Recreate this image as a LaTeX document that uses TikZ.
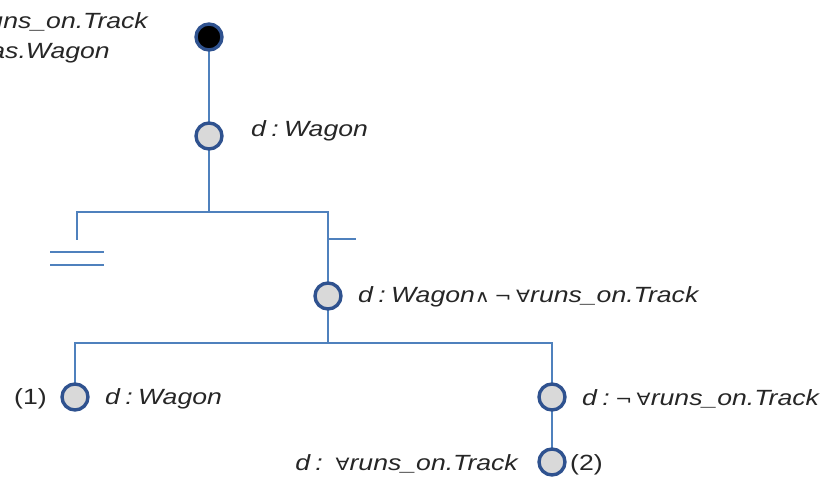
\documentclass[tikz,border=0pt]{standalone}
\usepackage{fontspec}
\usepackage{graphicx}
\setmainfont{Liberation Sans}
\newfontfamily\symf{DejaVu Sans}
\definecolor{linec}{RGB}{79,129,189}
\definecolor{rimc}{RGB}{47,82,143}
\definecolor{fillc}{RGB}{217,217,217}
\newcommand{\tx}[1]{\scalebox{1.21}[1]{\fontsize{22}{26}\selectfont\itshape #1}}
\newcommand{\sy}[1]{{\symf\upshape\fontsize{17}{20}\selectfont #1}}
\newcommand{\cl}{\hspace{0.2em}:\hspace{0.2em}}
\begin{document}
\begin{tikzpicture}[x=1pt,y=-1pt,
  conn/.style={draw=linec,line width=1.6pt},
  tnode/.style={circle,draw=rimc,line width=3.4pt,fill=fillc,minimum size=26pt,inner sep=0pt},
  rootnode/.style={tnode,fill=black},
  lab/.style={inner sep=0pt,anchor=base west,text=black!85},
  labr/.style={inner sep=0pt,anchor=base east,text=black!85}]
\useasboundingbox (0,0) rectangle (830,478);
% junction coordinates
\coordinate (J1) at (209,212);
\coordinate (L1) at (77,212);
\coordinate (R1) at (328,212);
\coordinate (L1e) at (77,240);
\coordinate (T1) at (328,239);
\coordinate (T1e) at (356,239);
\coordinate (D1a) at (50,252);
\coordinate (D1b) at (104,252);
\coordinate (D2a) at (50,265);
\coordinate (D2b) at (104,265);
\coordinate (J2) at (328,343);
\coordinate (L2) at (75,343);
\coordinate (R2) at (552,343);
% connectors (drawn first)
\path[conn] (209,37) -- (209,136);
\path[conn] (209,136) -- (J1);
\path[conn] (L1e) -- (L1) -- (R1) -- (328,296);
\path[conn] (T1) -- (T1e);
\path[conn] (D1a) -- (D1b);
\path[conn] (D2a) -- (D2b);
\path[conn] (328,296) -- (J2);
\path[conn] (75,397) -- (L2) -- (R2) -- (552,397);
\path[conn] (552,397) -- (552,462);
% nodes
\node[rootnode] (root) at (209,37) {};
\node[tnode] (n1) at (209,136) {};
\node[tnode] (n2) at (328,296) {};
\node[tnode] (n3) at (75,397) {};
\node[tnode] (n4) at (552,397) {};
\node[tnode] (n5) at (552,462) {};
% labels
\node[labr] (t0a) at (148,29) {\tx{uns\_on.Track}};
\node[labr] (t0b) at (110,59) {\tx{as.Wagon}};
\node[lab] (t1) at (251,137) {\tx{d\cl Wagon}};
\node[lab] (t2) at (358,303) {\tx{d\cl Wagon\sy{∧}\,\sy{¬}\,\sy{∀}runs\_on.Track}};
\node[lab] (t3n) at (14,404) {\tx{\upshape(1)}};
\node[lab] (t3) at (105,404) {\tx{d\cl Wagon}};
\node[lab] (t4) at (582,405) {\tx{d\cl\sy{¬}\,\sy{∀}runs\_on.Track}};
\node[labr] (t5) at (518,470) {\tx{d\cl\ \sy{∀}runs\_on.Track}};
\node[lab] (t5n) at (570,470) {\tx{\upshape(2)}};
\end{tikzpicture}
\end{document}
